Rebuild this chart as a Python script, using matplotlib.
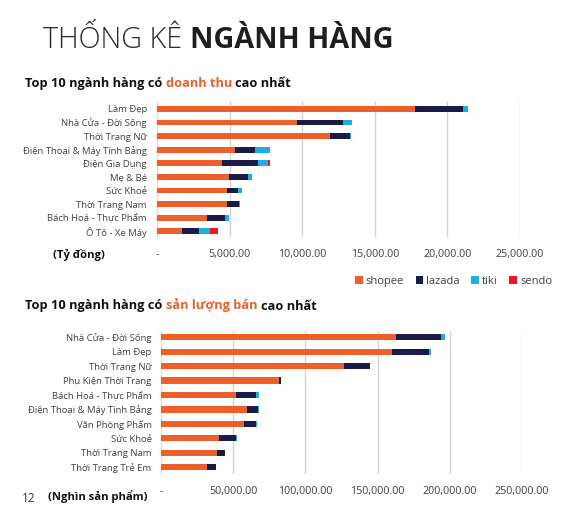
import matplotlib
matplotlib.use('Agg')
import matplotlib.pyplot as plt
from matplotlib.ticker import FuncFormatter
from matplotlib.patches import Patch
import numpy as np

plt.rcParams['font.family'] = ['Open Sans', 'DejaVu Sans']

# ---------------- data ----------------
platforms = ['shopee', 'lazada', 'tiki', 'sendo']
platform_colors = ['#EE5F2A', '#1B1B48', '#1EAEE6', '#EE1620']

rev_categories = ['Làm Đẹp', 'Nhà Cửa - Đời Sống', 'Thời Trang Nữ',
                  'Điện Thoại & Máy Tính Bảng', 'Điện Gia Dụng', 'Mẹ & Bé',
                  'Sức Khoẻ', 'Thời Trang Nam', 'Bách Hoá - Thực Phẩm', 'Ô Tô - Xe Máy']
rev_shopee = [17780, 9650, 11910, 5340, 4490, 4930, 4790, 4790, 3440, 1720]
rev_lazada = [3300, 3130, 1350, 1440, 2500, 1370, 820, 870, 1230, 1170]
rev_tiki = [360, 620, 70, 990, 680, 250, 210, 40, 280, 750]
rev_sendo = [0, 0, 0, 0, 120, 0, 0, 0, 0, 580]

vol_categories = ['Nhà Cửa - Đời Sống', 'Làm Đẹp', 'Thời Trang Nữ',
                  'Phụ Kiện Thời Trang', 'Bách Hoá - Thực Phẩm',
                  'Điện Thoại & Máy Tính Bảng', 'Văn Phòng Phẩm', 'Sức Khoẻ',
                  'Thời Trang Nam', 'Thời Trang Trẻ Em']
vol_shopee = [162400, 160300, 126900, 81400, 52100, 59900, 57200, 40400, 38800, 31600]
vol_lazada = [31400, 25400, 17700, 1600, 13600, 7500, 8500, 11700, 5700, 6500]
vol_tiki = [3200, 1600, 300, 200, 2300, 400, 900, 500, 0, 0]
vol_sendo = [0, 0, 0, 0, 0, 0, 0, 0, 0, 0]

rev_ticks = [0, 5000, 10000, 15000, 20000, 25000]
vol_ticks = [0, 50000, 100000, 150000, 200000, 250000]

# ---------------- figure ----------------
W, H = 562, 516
fig = plt.figure(figsize=(W / 100, H / 100), dpi=100)
fig.patch.set_facecolor('white')
renderer = fig.canvas.get_renderer()

GRID = '#D4D4D4'
TXT = '#404040'


def text_w(s, **props):
    t = fig.text(0, 0, s, **props)
    w = t.get_window_extent(renderer).width
    t.remove()
    return w


def fit_size(s, target, **props):
    return 10.0 * target / text_w(s, fontsize=10, **props)


def space_w(**props):
    return text_w('a a', **props) - text_w('aa', **props)


def pieces_w(pieces):
    w = 0
    for i, (txt, props) in enumerate(pieces):
        w += text_w(txt, **props)
        if i < len(pieces) - 1:
            w += space_w(**props)
    return w


def draw_pieces(x_px, y_px, pieces, va='baseline'):
    x = x_px
    for i, (txt, props) in enumerate(pieces):
        t = fig.text(x / W, 1 - y_px / H, txt, ha='left', va=va, **props)
        x += t.get_window_extent(renderer).width
        if i < len(pieces) - 1:
            x += space_w(**props)


# font sizes fitted to measured widths in the reference
cat_fs = fit_size('Điện Thoại & Máy Tính Bảng', 124.5)
tick_fs = fit_size('20,000.00', 49)
leg_fs = fit_size('shopee', 38)
unit_fs = fit_size('(Nghìn sản phẩm)', 99, fontweight='bold')


def fmt(v, pos):
    return '-' if abs(v) < 1e-9 else f'{v:,.2f}'


def draw_chart(rect, cats, series, ticks, ylim, ypad):
    ax = fig.add_axes(rect)
    y = np.arange(len(cats))
    left = np.zeros(len(cats))
    for vals, c, name in zip(series, platform_colors, platforms):
        vals = np.asarray(vals, dtype=float)
        ax.barh(y, vals, left=left, height=0.43, color=c, label=name, zorder=3)
        left += vals
    ax.set_xlim(ticks[0], ticks[-1])
    ax.set_ylim(*ylim)
    ax.set_yticks(y)
    ax.set_yticklabels(cats, fontsize=cat_fs, color=TXT)
    ax.set_xticks(ticks)
    ax.xaxis.set_major_formatter(FuncFormatter(fmt))
    ax.tick_params(axis='x', length=0, pad=8.5, labelsize=tick_fs, labelcolor=TXT)
    ax.tick_params(axis='y', length=0, pad=ypad)
    ax.grid(axis='x', color=GRID, linewidth=1.0, zorder=0)
    for s in ['top', 'right', 'bottom']:
        ax.spines[s].set_visible(False)
    ax.spines['left'].set_color('#E2E2E2')
    ax.spines['left'].set_linewidth(1.0)
    ax.set_facecolor('none')
    return ax


ax1 = draw_chart([157 / W, 1 - 237.5 / H, (520 - 157) / W, 136 / H],
                 rev_categories, [rev_shopee, rev_lazada, rev_tiki, rev_sendo],
                 rev_ticks, (9.46, -0.54), 7.3)
ax2 = draw_chart([161 / W, 1 - 474 / H, (522 - 161) / W, 143.3 / H],
                 vol_categories, [vol_shopee, vol_lazada, vol_tiki, vol_sendo],
                 vol_ticks, (9.48, -0.46), 6.8)

# legend
handles = [Patch(facecolor=c, edgecolor='none', label=n) for n, c in zip(platforms, platform_colors)]
fig.legend(handles=handles, loc='center', bbox_to_anchor=(453.5 / W, 1 - 281.6 / H), ncol=4,
           frameon=False, fontsize=leg_fs, handlelength=0.7, handleheight=0.7,
           handletextpad=0.25, columnspacing=1.05, labelcolor=TXT)

# title
t_light = dict(fontsize=10, fontweight='light', color='#2B2B2B')
t_bold = dict(fontsize=10, fontweight='bold', color='#1E1E1E')
title_fs = 10 * 348.5 / pieces_w([('THỐNG KÊ', t_light), ('NGÀNH HÀNG', t_bold)])
t_light['fontsize'] = title_fs
t_bold['fontsize'] = title_fs
draw_pieces(43.3, 48.5, [('THỐNG KÊ', t_light), ('NGÀNH HÀNG', t_bold)])

sub = dict(fontsize=10, fontweight='bold', color='#111111')
sub_o = dict(fontsize=10, fontweight='bold', color='#EE5F2A')
sub_fs = 10 * 264 / pieces_w([('Top 10 ngành hàng có', sub), ('doanh thu', sub_o), ('cao nhất', sub)])
sub['fontsize'] = sub_fs
sub_o['fontsize'] = sub_fs
draw_pieces(25, 87, [('Top 10 ngành hàng có', sub), ('doanh thu', sub_o), ('cao nhất', sub)])
draw_pieces(25, 309.5, [('Top 10 ngành hàng có', sub), ('sản lượng bán', sub_o), ('cao nhất', sub)])

fig.text(79 / W, 1 - 255 / H, '(Tỷ đồng)', ha='center', va='center', fontsize=unit_fs,
         fontweight='bold', color='#111111')
fig.text(97.5 / W, 1 - 496 / H, '(Nghìn sản phẩm)', ha='center', va='center', fontsize=unit_fs,
         fontweight='bold', color='#111111')
fig.text(28.5 / W, 1 - 499 / H, '12', ha='center', va='center', fontsize=8.5,
         color='#333333')

fig.savefig('out.png', dpi=100, facecolor='white')
